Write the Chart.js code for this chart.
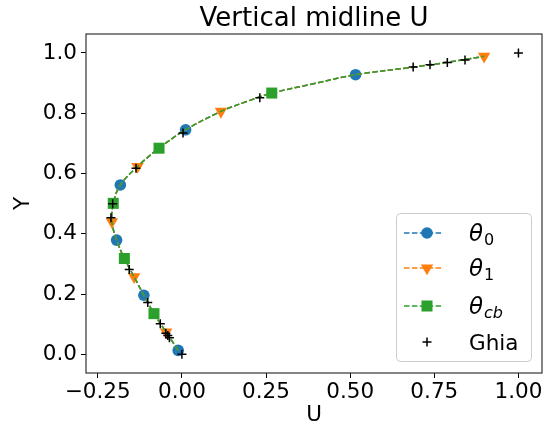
<!DOCTYPE html>
<html><head><meta charset="utf-8">
<script src="https://cdn.jsdelivr.net/npm/chart.js@4/dist/chart.umd.min.js"></script>
<style>html,body{margin:0;padding:0;background:#fff;}#wrap{width:552px;height:432px;}</style>
</head><body><div id="wrap"><canvas id="c" width="552" height="432"></canvas></div>
<script>
// ---- data ----
const curveY   = [0.013, 0.074, 0.135, 0.196, 0.257, 0.318, 0.379, 0.440, 0.501, 0.562, 0.623, 0.684, 0.745, 0.806, 0.838, 0.867, 0.895, 0.928, 0.953, 0.969, 0.989];
const theta0U  = [-0.011, -0.047, -0.083, -0.113, -0.142, -0.171, -0.194, -0.208, -0.204, -0.183, -0.132, -0.068, 0.011, 0.116, 0.190, 0.267, 0.380, 0.516, 0.687, 0.789, 0.898];
const theta1U  = [-0.011, -0.047, -0.083, -0.113, -0.142, -0.171, -0.194, -0.208, -0.204, -0.183, -0.132, -0.068, 0.011, 0.116, 0.190, 0.267, 0.380, 0.516, 0.687, 0.789, 0.898];
const thetaCbU = [-0.011, -0.047, -0.083, -0.113, -0.142, -0.171, -0.194, -0.208, -0.204, -0.183, -0.132, -0.068, 0.011, 0.116, 0.190, 0.267, 0.380, 0.516, 0.687, 0.789, 0.898];
// marker positions of each series
const theta0MarkY  = [0.013, 0.196, 0.379, 0.562, 0.745, 0.928];
const theta0MarkU  = [-0.011, -0.113, -0.194, -0.183, 0.011, 0.516];
const theta1MarkY  = [0.074, 0.257, 0.440, 0.623, 0.806, 0.989];
const theta1MarkU  = [-0.047, -0.142, -0.208, -0.132, 0.116, 0.898];
const thetaCbMarkY = [0.135, 0.318, 0.501, 0.684, 0.867];
const thetaCbMarkU = [-0.083, -0.171, -0.204, -0.068, 0.267];
// Ghia reference points
const ghiaY = [1.0000, 0.9766, 0.9688, 0.9609, 0.9531, 0.8516, 0.7344, 0.6172, 0.5000, 0.4531, 0.2813, 0.1719, 0.1016, 0.0703, 0.0625, 0.0547, 0.0000];
const ghiaU = [1.0000, 0.8412, 0.7887, 0.7372, 0.6872, 0.2315, 0.0033, -0.1364, -0.2058, -0.2109, -0.1566, -0.1015, -0.0643, -0.0478, -0.0419, -0.0372, 0.0000];
const seriesNames = ['θ0', 'θ1', 'θcb', 'Ghia'];
const xTicks = [-0.25, 0.00, 0.25, 0.50, 0.75, 1.00];
const yTicks = [0.0, 0.2, 0.4, 0.6, 0.8, 1.0];
const titleText = 'Vertical midline U';
const xLabel = 'U';
const yLabel = 'Y';

// ---- build ----
const FONT = "'DejaVu Sans', sans-serif";
const FS = 21.5;
const C0 = '#1f77b4', C1 = '#ff7f0e', C2 = '#2ca02c';
const pts = (us, ys) => us.map((u, i) => ({x: u, y: ys[i]}));
const DASH = [5.5, 2.4];

function lineDs(us, color, order) {
  return {data: pts(us, curveY), showLine: true, borderColor: color, borderWidth: 1.5,
    borderDash: DASH, pointRadius: 0, tension: 0.35, order: order, fill: false};
}
function markDs(us, ys, color, style, radius, rot, order) {
  return {data: pts(us, ys), showLine: false, pointStyle: style, pointRadius: radius,
    pointRotation: rot, backgroundColor: color, borderColor: color, borderWidth: 0, order: order};
}

const datasets = [
  lineDs(theta0U, C0, 7),
  markDs(theta0MarkU, theta0MarkY, C0, 'circle', 5.8, 0, 6),
  lineDs(theta1U, C1, 5),
  markDs(theta1MarkU, theta1MarkY, C1, 'triangle', 7.2, 180, 4),
  lineDs(thetaCbU, C2, 3),
  markDs(thetaCbMarkU, thetaCbMarkY, C2, 'rect', 7.8, 0, 2),
  {data: pts(ghiaU, ghiaY), showLine: false, pointStyle: 'cross', pointRadius: 4.5,
   borderColor: '#000', borderWidth: 1.5, backgroundColor: '#000', order: 1}
];

function drawMarker(ctx, style, x, y, r, rot) {
  Chart.helpers.drawPoint(ctx, {pointStyle: style, rotation: rot, radius: r, borderWidth: style==='cross'?1.5:0}, x, y);
}

const framePlugin = {
  id: 'frame',
  afterDraw(chart) {
    const {ctx, chartArea: a} = chart;
    ctx.save();
    // frame
    ctx.strokeStyle = '#333'; ctx.lineWidth = 1.2;
    ctx.strokeRect(a.left, a.top, a.right - a.left, a.bottom - a.top);
    // title
    ctx.fillStyle = '#000';
    ctx.font = '26px ' + FONT; ctx.textAlign = 'center'; ctx.textBaseline = 'alphabetic';
    ctx.fillText(titleText, (a.left + a.right) / 2, 26);
    // axis labels
    ctx.font = FS + 'px ' + FONT;
    ctx.fillText(xLabel, (a.left + a.right) / 2, 421);
    ctx.save(); ctx.translate(29, (a.top + a.bottom) / 2); ctx.rotate(-Math.PI/2);
    ctx.fillText(yLabel, 0, 0); ctx.restore();
    // legend
    const lx = 396, ly = 213, lw = 135, lh = 148;
    ctx.fillStyle = 'rgba(255,255,255,0.8)';
    ctx.strokeStyle = '#cccccc'; ctx.lineWidth = 1;
    ctx.beginPath(); ctx.roundRect(lx + 0.5, ly + 0.5, lw, lh, 4); ctx.fill(); ctx.stroke();
    const rows = [233, 268, 306, 342];
    const cols = [C0, C1, C2, '#000'];
    const styles = ['circle', 'triangle', 'rect', 'cross'];
    const radii = [5.8, 7.2, 7.8, 4.5];
    const rots = [0, 180, 0, 0];
    for (let i = 0; i < 4; i++) {
      const y = rows[i];
      if (i < 3) {
        ctx.strokeStyle = cols[i]; ctx.lineWidth = 1.5; ctx.setLineDash(DASH);
        ctx.beginPath(); ctx.moveTo(404, y); ctx.lineTo(443, y); ctx.stroke();
        ctx.setLineDash([]);
      }
      ctx.fillStyle = cols[i]; ctx.strokeStyle = cols[i];
      drawMarker(ctx, styles[i], 427, y, radii[i], rots[i]);
      ctx.fillStyle = '#000'; ctx.textAlign = 'left'; ctx.textBaseline = 'alphabetic';
      const name = seriesNames[i];
      if (name.startsWith('θ')) {
        ctx.font = 'italic 23px ' + FONT;
        ctx.fillText('θ', 469, y + 8);
        const w = ctx.measureText('θ').width;
        const sub = name.slice(1);
        ctx.font = (sub === 'cb' ? 'italic ' : '') + '16px ' + FONT;
        ctx.fillText(sub, 469 + w + 1, y + 12);
      } else {
        ctx.font = FS + 'px ' + FONT;
        ctx.fillText(name, 469, y + 8);
      }
    }
    ctx.restore();
  }
};

new Chart(document.getElementById('c'), {
  type: 'scatter',
  data: {datasets},
  plugins: [framePlugin],
  options: {
    responsive: false, animation: false, devicePixelRatio: 1,
    layout: {padding: {top: 34, right: 10, left: 0, bottom: 0}},
    plugins: {legend: {display: false}, tooltip: {enabled: false}, title: {display: false}},
    scales: {
      x: {type: 'linear', min: -0.285, max: 1.07,
        afterBuildTicks: s => { s.ticks = xTicks.map(v => ({value: v})); },
        afterFit: s => { s.height = 59; },
        border: {display: false},
        grid: {drawOnChartArea: false, drawTicks: true, tickLength: 5, color: '#000', tickWidth: 1},
        ticks: {color: '#000', font: {family: FONT, size: FS}, padding: 2, maxRotation: 0,
          callback: v => (v < 0 ? '\u2212' : '') + Math.abs(v).toFixed(2)}},
      y: {type: 'linear', min: -0.062, max: 1.063,
        afterBuildTicks: s => { s.ticks = yTicks.map(v => ({value: v})); },
        afterFit: s => { s.width = 86; },
        border: {display: false},
        grid: {drawOnChartArea: false, drawTicks: true, tickLength: 5, color: '#000', tickWidth: 1},
        ticks: {color: '#000', font: {family: FONT, size: FS}, padding: 4,
          callback: v => v.toFixed(1)}}
    }
  }
});
</script></body></html>
